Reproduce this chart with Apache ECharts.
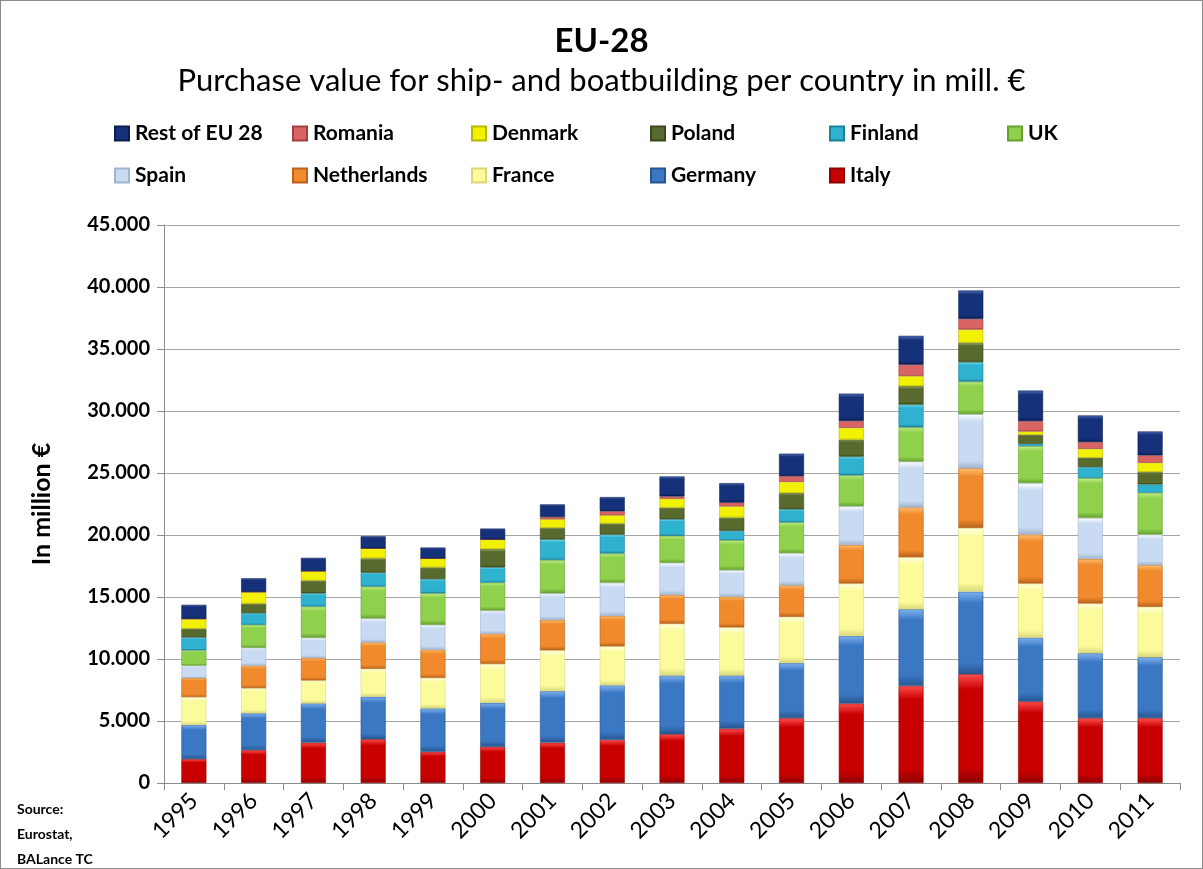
<!DOCTYPE html>
<html>
<head>
<meta charset="utf-8">
<script src="https://cdn.jsdelivr.net/npm/echarts@6/dist/echarts.min.js"></script>
<style>
  html, body { margin: 0; padding: 0; background: #fff; }
  #chart { width: 1203px; height: 869px; box-sizing: border-box; border: 1px solid #8c8c8c; }
</style>
</head>
<body>
<div id="chart"></div>
<script>
// Years on the category axis
const years = ['1995','1996','1997','1998','1999','2000','2001','2002','2003','2004','2005','2006','2007','2008','2009','2010','2011'];

// Purchase value per country, million €
const italy       = [1930, 2650, 3260, 3530, 2510, 2920, 3260, 3480, 3930, 4390, 5230, 6410, 7830, 8770, 6570, 5230, 5230];
const germany     = [2750, 2970, 3160, 3430, 3510, 3550, 4150, 4390, 4740, 4280, 4450, 5450, 6180, 6660, 5150, 5230, 4910];
const france      = [2250, 2030, 1850, 2250, 2460, 3130, 3290, 3150, 4170, 3880, 3720, 4230, 4200, 5140, 4370, 4020, 4070];
const netherlands = [1550, 1820, 1820, 2130, 2270, 2440, 2460, 2460, 2330, 2480, 2540, 3120, 4020, 4810, 3950, 3600, 3360];
const spain       = [ 990, 1440, 1630, 1930, 2010, 1870, 2140, 2680, 2590, 2140, 2600, 3110, 3690, 4360, 4150, 3300, 2470];
const uk          = [1230, 1850, 2510, 2570, 2540, 2250, 2680, 2350, 2170, 2410, 2480, 2490, 2760, 2630, 2980, 3210, 3370];
const finland     = [1040,  940, 1070, 1120, 1150, 1230, 1660, 1520, 1340,  750, 1060, 1510, 1840, 1570,  190,  890,  670];
const poland      = [ 700,  750, 1020, 1150,  930, 1470,  930,  890,  930, 1070, 1300, 1360, 1480, 1540,  720,  750, 1000];
const denmark     = [ 800,  960,  770,  810,  730,  780,  700,  670,  730,  910,  910,  970,  820, 1090,  270,  720,  750];
const romania     = [   0,    0,    0,    0,    0,    0,  180,  320,  180,  300,  450,  540,  910,  850,  830,  540,  590];
const restOfEU    = [1130, 1100, 1070,  980,  880,  880, 1020, 1150, 1610, 1570, 1820, 2210, 2330, 2300, 2470, 2150, 1930];

// Y axis tick values
const yTicks = [0, 5000, 10000, 15000, 20000, 25000, 30000, 35000, 40000, 45000];

// Stack order, bottom to top: [name, values, base colour, highlight, shade]
const stackSeries = [
  ['Italy',        italy,       '#c80000', '#ff4d4d', '#8e0000'],
  ['Germany',      germany,     '#3b78c4', '#7fb2ee', '#27558f'],
  ['France',       france,      '#fbfb9c', '#ffffe0', '#d8d87a'],
  ['Netherlands',  netherlands, '#f08a2c', '#ffc070', '#b8621a'],
  ['Spain',        spain,       '#c9dbf2', '#ffffff', '#9fb4cf'],
  ['UK',           uk,          '#8fd04c', '#c2ee8a', '#66a02e'],
  ['Finland',      finland,     '#2eb2cf', '#86e6f5', '#1d8198'],
  ['Poland',       poland,      '#586a2e', '#98ad6a', '#3b4a1c'],
  ['Denmark',      denmark,     '#f2f200', '#ffff80', '#b8b800'],
  ['Romania',      romania,     '#d86464', '#f4a0a0', '#a64040'],
  ['Rest of EU 28',restOfEU,    '#15317a', '#4f6fb8', '#0b1e52']
];

// Legend grid: two rows laid out in fixed columns
const legendRow1 = ['Rest of EU 28', 'Romania', 'Denmark', 'Poland', 'Finland', 'UK'];
const legendRow2 = ['Spain', 'Netherlands', 'France', 'Germany', 'Italy'];
const legendColumns = [113, 291, 470, 649, 828, 1006];
const legendRowTops = [122, 164];

function bevel(base, hi, lo) {
  return new echarts.graphic.LinearGradient(0, 0, 0, 1, [
    { offset: 0, color: hi },
    { offset: 0.14, color: base },
    { offset: 0.86, color: base },
    { offset: 1, color: lo }
  ]);
}

const FONT = 'Lato, "DejaVu Sans", sans-serif';

const series = stackSeries.map(([name, values, base, hi, lo]) => ({
  name: name,
  type: 'bar',
  stack: 'total',
  barWidth: 25,
  data: values,
  itemStyle: {
    color: bevel(base, hi, lo),
    borderColor: lo,
    borderWidth: 0.6
  },
  emphasis: { disabled: true }
}));

function legendItem(name, left, top) {
  return {
    orient: 'horizontal',
    left: left,
    top: top,
    padding: 0,
    itemWidth: 14,
    itemHeight: 14,
    itemGap: 6,
    icon: 'rect',
    data: [name],
    textStyle: { fontFamily: FONT, fontWeight: 'bold', fontSize: 21, color: '#000', padding: [0, 0, 0, 1] }
  };
}

const legends = [];
legendRow1.forEach((n, i) => legends.push(legendItem(n, legendColumns[i], legendRowTops[0])));
legendRow2.forEach((n, i) => legends.push(legendItem(n, legendColumns[i], legendRowTops[1])));

const chart = echarts.init(document.getElementById('chart'), null, { renderer: 'canvas' });

chart.setOption({
  backgroundColor: '#fff',
  animation: false,
  title: [
    {
      text: 'EU-28', left: 'center', top: 19,
      textStyle: { fontFamily: FONT, fontWeight: 'bold', fontSize: 33, color: '#000' }
    },
    {
      text: 'Purchase value for ship- and boatbuilding per country in mill. €', left: 'center', top: 59,
      textStyle: { fontFamily: FONT, fontWeight: 'normal', fontSize: 31, color: '#000' }
    }
  ],
  legend: legends,
  grid: { left: 163, right: 22, top: 224, bottom: 85, containLabel: false },
  xAxis: {
    type: 'category',
    data: years,
    axisLine: { lineStyle: { color: '#8c8c8c', width: 1 } },
    axisTick: { show: true, length: 7, lineStyle: { color: '#8c8c8c' } },
    axisLabel: { rotate: 45, margin: 14, fontFamily: FONT, fontSize: 23, color: '#000' }
  },
  yAxis: {
    type: 'value',
    min: yTicks[0],
    max: yTicks[yTicks.length - 1],
    interval: yTicks[1] - yTicks[0],
    name: 'In million €',
    nameLocation: 'middle',
    nameRotate: 90,
    nameGap: 110,
    nameTextStyle: { fontFamily: FONT, fontWeight: 'bold', fontSize: 25, color: '#000' },
    axisLine: { show: true, lineStyle: { color: '#8c8c8c', width: 1 } },
    axisTick: { show: true, length: 7, lineStyle: { color: '#8c8c8c' } },
    splitLine: { lineStyle: { color: '#a6a6a6', width: 1 } },
    axisLabel: {
      margin: 14,
      fontFamily: FONT, fontWeight: 'bold', fontSize: 20, color: '#000',
      formatter: v => String(v).replace(/\B(?=(\d{3})+(?!\d))/g, '.')
    }
  },
  graphic: [
    {
      type: 'text', left: 16, top: 796,
      style: {
        text: 'Source:\nEurostat,\nBALance TC',
        fontFamily: FONT, fontWeight: 'bold', fontSize: 14, lineHeight: 25, fill: '#000'
      }
    }
  ],
  series: series
});
</script>
</body>
</html>
